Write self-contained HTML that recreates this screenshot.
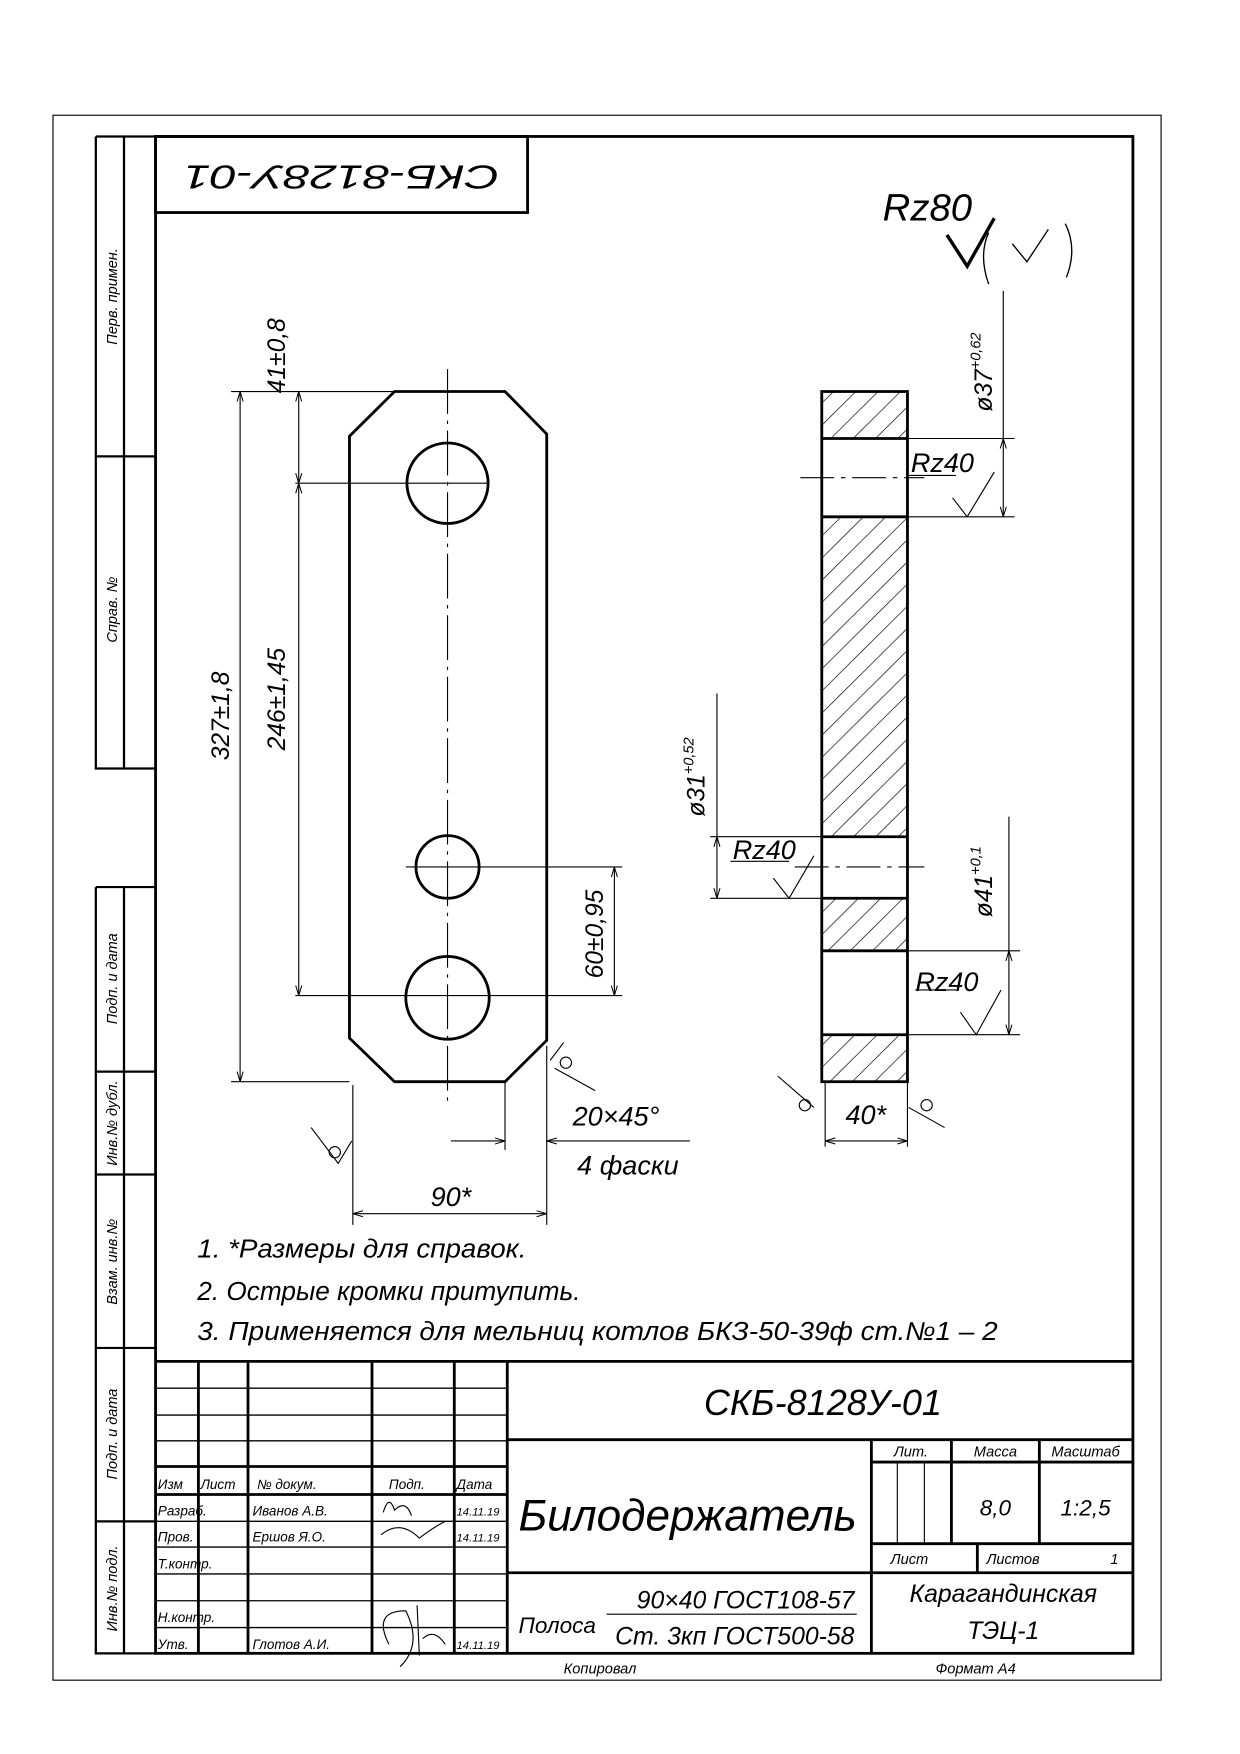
<!DOCTYPE html>
<html><head><meta charset="utf-8"><style>
html,body{margin:0;padding:0;background:#fff}
svg{display:block}
text{font-family:"Liberation Sans","DejaVu Sans",sans-serif;font-style:italic;fill:#000}
</style></head><body>
<svg width="1240" height="1754" viewBox="0 0 1100 1568" preserveAspectRatio="none" xmlns="http://www.w3.org/2000/svg">
<defs>
<pattern id="h" patternUnits="userSpaceOnUse" width="14" height="14" patternTransform="rotate(45)">
<line x1="0" y1="0" x2="0" y2="14" stroke="#000" stroke-width="1.2"/>
</pattern>
<marker id="a" viewBox="0 0 10 10" refX="10" refY="5" markerWidth="9" markerHeight="9" orient="auto-start-reverse" markerUnits="userSpaceOnUse"><path d="M0,2 L10,5 L0,8" fill="none" stroke="#000" stroke-width="1"/></marker>
</defs>
<g fill="none" stroke="#000">
<rect x="47" y="103" width="983" height="1399" stroke-width="1"/>
<rect x="138" y="122" width="867" height="1356" stroke-width="2.5"/>
<path d="M85,122 V687 H138 M110,122 V687 M85,122 H138 M85,408 H138" stroke-width="2"/>
<path d="M85,793 V1478 H138 M110,793 V1478 M85,793 H138 M85,958 H138 M85,1050 H138 M85,1205 H138 M85,1360 H138" stroke-width="2"/>
<rect x="138" y="122" width="330" height="68" stroke-width="2.5"/>
<path d="M138,1217 H1005 M450,1217 V1478 M450,1287 H1005 M450,1406 H1005 M773,1287 V1478 M773,1307 H1005 M773,1380 H1005 M844,1287 V1380 M922,1287 V1380 M867,1380 V1406" stroke-width="2.5"/>
<path d="M796,1307 V1380 M820,1307 V1380" stroke-width="1"/>
<path d="M176,1217 V1478 M220,1217 V1478 M330,1217 V1478 M403,1217 V1478" stroke-width="2.5"/>
<path d="M138,1241 H450 M138,1265 H450 M138,1288 H450 M138,1383 H450 M138,1407 H450 M138,1431 H450 M138,1455 H450 M138,1360 H450" stroke-width="1.2"/>
<path d="M138,1311 H450 M138,1336 H450" stroke-width="2.5"/>
<path d="M538,1443 H760" stroke-width="1"/>

<path d="M350,350 H448 L485,388 V930 L448,967 H350 L310,928 V390 Z" stroke-width="2.5"/>
<circle cx="397" cy="432" r="36" stroke-width="2.5"/>
<circle cx="397" cy="775" r="28" stroke-width="2.5"/>
<circle cx="397" cy="892" r="37" stroke-width="2.5"/>
<path d="M397,330 V985" stroke-width="1" stroke-dasharray="40,6,3,6"/>
<path d="M205,350 H400 M262,432 H432 M262,890 H440 M205,967 H310 M360,775 H552 M440,890 H552" stroke-width="1"/>
<path d="M265,350 V432" stroke-width="1" marker-start="url(#a)" marker-end="url(#a)"/>
<path d="M265,432 V890" stroke-width="1" marker-start="url(#a)" marker-end="url(#a)"/>
<path d="M213,350 V967" stroke-width="1" marker-start="url(#a)" marker-end="url(#a)"/>
<path d="M545,775 V890" stroke-width="1" marker-start="url(#a)" marker-end="url(#a)"/>
<path d="M313,970 V1095 M485,935 V1095" stroke-width="1"/>
<path d="M313,1085 H485" stroke-width="1" marker-start="url(#a)" marker-end="url(#a)"/>
<path d="M448,967 V1028" stroke-width="1"/>
<path d="M400,1020 H448" stroke-width="1" marker-end="url(#a)"/>
<path d="M612,1020 H485" stroke-width="1" marker-end="url(#a)"/>
<path d="M276,1008 L300,1040 L312,1020" stroke-width="1"/><circle cx="297" cy="1030" r="5" stroke-width="1"/>
<path d="M488,948 L500,932 M492,955 L528,975" stroke-width="1"/><circle cx="502" cy="950" r="5" stroke-width="1"/>

<rect x="729" y="350" width="76" height="42" fill="url(#h)" stroke="none"/>
<rect x="729" y="462" width="76" height="286" fill="url(#h)" stroke="none"/>
<rect x="729" y="803" width="76" height="47" fill="url(#h)" stroke="none"/>
<rect x="729" y="925" width="76" height="42" fill="url(#h)" stroke="none"/>
<rect x="729" y="350" width="76" height="617" stroke-width="2.5"/>
<path d="M729,392 H805 M729,462 H805 M729,748 H805 M729,803 H805 M729,850 H805 M729,925 H805" stroke-width="2.5"/>
<path d="M805,392 H900 M805,462 H900 M805,850 H905 M805,925 H905 M630,748 H729 M630,803 H729" stroke-width="1"/>
<path d="M710,427 H820 M705,775 H820" stroke-width="1" stroke-dasharray="30,6,4,6"/>
<path d="M890,260 V392" stroke-width="1"/>
<path d="M890,392 V462" stroke-width="1" marker-start="url(#a)" marker-end="url(#a)"/>
<path d="M636,620 V748" stroke-width="1"/>
<path d="M636,748 V803" stroke-width="1" marker-start="url(#a)" marker-end="url(#a)"/>
<path d="M895,730 V850" stroke-width="1"/>
<path d="M895,850 V925" stroke-width="1" marker-start="url(#a)" marker-end="url(#a)"/>
<path d="M845,445 L858,462 L882,422" stroke-width="1"/>
<path d="M686,785 L700,803 L722,765" stroke-width="1"/>
<path d="M852,905 L866,925 L888,885" stroke-width="1"/>
<path d="M805,425 H848 M648,770 H700 M812,885 H850" stroke-width="1"/>
<path d="M732,967 V1025 M805,967 V1025" stroke-width="1"/>
<path d="M732,1020 H805" stroke-width="1" marker-start="url(#a)" marker-end="url(#a)"/>
<path d="M690,962 L722,990 M806,990 L838,1008" stroke-width="1"/>
<circle cx="714" cy="988" r="5" stroke-width="1"/><circle cx="822" cy="988" r="5" stroke-width="1"/>
<path d="M840,210 L858,238 L882,195" stroke-width="3"/>
<path d="M877,208 Q868,228 877,254 M945,200 Q956,222 946,248" stroke-width="1.2"/>
<path d="M898,218 L911,234 L930,205" stroke-width="1.2"/>
</g>

<text x="303" y="168" font-size="30" text-anchor="middle" textLength="280" lengthAdjust="spacingAndGlyphs" transform="rotate(180 303 158)">СКБ-8128У-01</text>
<text x="783" y="197" font-size="34">Rz80</text>
<text font-size="22" transform="translate(253,318) rotate(-90)" text-anchor="middle">41±0,8</text>
<text font-size="22" transform="translate(253,625) rotate(-90)" text-anchor="middle">246±1,45</text>
<text font-size="22" transform="translate(203,640) rotate(-90)" text-anchor="middle">327±1,8</text>
<text font-size="22" transform="translate(535,835) rotate(-90)" text-anchor="middle">60±0,95</text>
<text x="400" y="1078" font-size="24" text-anchor="middle">90*</text>
<text x="508" y="1006" font-size="24">20×45°</text>
<text x="512" y="1050" font-size="24">4 фаски</text>
<text x="768" y="1005" font-size="24" text-anchor="middle">40*</text>
<text x="808" y="422" font-size="24">Rz40</text>
<text x="650" y="768" font-size="24">Rz40</text>
<text x="812" y="886" font-size="24">Rz40</text>
<text font-size="22" transform="translate(880,368) rotate(-90)">ø37<tspan font-size="13" dy="-10">+0,62</tspan></text>
<text font-size="22" transform="translate(625,730) rotate(-90)">ø31<tspan font-size="13" dy="-10">+0,52</tspan></text>
<text font-size="22" transform="translate(880,820) rotate(-90)">ø41<tspan font-size="13" dy="-10">+0,1</tspan></text>
<text x="175" y="1124" font-size="23" textLength="292" lengthAdjust="spacingAndGlyphs">1.  *Размеры для справок.</text>
<text x="175" y="1162" font-size="23" textLength="340" lengthAdjust="spacingAndGlyphs">2. Острые кромки притупить.</text>
<text x="175" y="1198" font-size="23" textLength="710" lengthAdjust="spacingAndGlyphs">3. Применяется для мельниц котлов БКЗ-50-39ф ст.№1 – 2</text>
<text font-size="13" transform="translate(104,265) rotate(-90)" text-anchor="middle">Перв. примен.</text>
<text font-size="13" transform="translate(104,545) rotate(-90)" text-anchor="middle">Справ. №</text>
<text font-size="13" transform="translate(104,875) rotate(-90)" text-anchor="middle">Подп. и дата</text>
<text font-size="13" transform="translate(104,1004) rotate(-90)" text-anchor="middle">Инв.№ дубл.</text>
<text font-size="13" transform="translate(104,1128) rotate(-90)" text-anchor="middle">Взам. инв.№</text>
<text font-size="13" transform="translate(104,1282) rotate(-90)" text-anchor="middle">Подп. и дата</text>
<text font-size="13" transform="translate(104,1420) rotate(-90)" text-anchor="middle">Инв.№ подл.</text>
<text x="730" y="1265" font-size="32" text-anchor="middle">СКБ-8128У-01</text>
<text x="610" y="1368" font-size="40" text-anchor="middle" textLength="300" lengthAdjust="spacingAndGlyphs">Билодержатель</text>
<text x="808" y="1302" font-size="13" text-anchor="middle">Лит.</text>
<text x="883" y="1302" font-size="13" text-anchor="middle">Масса</text>
<text x="963" y="1302" font-size="13" text-anchor="middle">Масштаб</text>
<text x="883" y="1355" font-size="20" text-anchor="middle">8,0</text>
<text x="963" y="1355" font-size="20" text-anchor="middle">1:2,5</text>
<text x="790" y="1398" font-size="13">Лист</text>
<text x="875" y="1398" font-size="13">Листов</text>
<text x="985" y="1398" font-size="13">1</text>
<text x="890" y="1432" font-size="22" text-anchor="middle">Карагандинская</text>
<text x="890" y="1465" font-size="22" text-anchor="middle">ТЭЦ-1</text>
<text x="758" y="1438" font-size="22" text-anchor="end">90×40 ГОСТ108-57</text>
<text x="460" y="1460" font-size="20">Полоса</text>
<text x="758" y="1470" font-size="22" text-anchor="end">Ст. 3кп ГОСТ500-58</text>
<text x="140" y="1331" font-size="12">Изм</text>
<text x="178" y="1331" font-size="12">Лист</text>
<text x="228" y="1331" font-size="12">№ докум.</text>
<text x="345" y="1331" font-size="12">Подп.</text>
<text x="405" y="1331" font-size="12">Дата</text>
<text x="140" y="1355" font-size="12">Разраб.</text>
<text x="224" y="1355" font-size="12">Иванов А.В.</text>
<text x="140" y="1378" font-size="12">Пров.</text>
<text x="224" y="1378" font-size="12">Ершов Я.О.</text>
<text x="140" y="1402" font-size="12">Т.контр.</text>
<text x="140" y="1450" font-size="12">Н.контр.</text>
<text x="140" y="1474" font-size="12">Утв.</text>
<text x="224" y="1474" font-size="12">Глотов А.И.</text>
<text x="405" y="1355" font-size="10">14.11.19</text>
<text x="405" y="1378" font-size="10">14.11.19</text>
<text x="405" y="1474" font-size="10">14.11.19</text>
<text x="500" y="1496" font-size="13">Копировал</text>
<text x="830" y="1496" font-size="13">Формат   А4</text>
<g fill="none" stroke="#000" stroke-width="1">
<path d="M340,1352 Q345,1335 350,1350 Q360,1340 365,1355 M338,1372 Q355,1358 372,1375 Q385,1365 395,1360"/>
<path d="M345,1470 Q330,1440 360,1440 Q375,1470 355,1490 M370,1435 L372,1480 M375,1465 Q385,1455 395,1470"/>
</g>
</svg>
</body></html>
